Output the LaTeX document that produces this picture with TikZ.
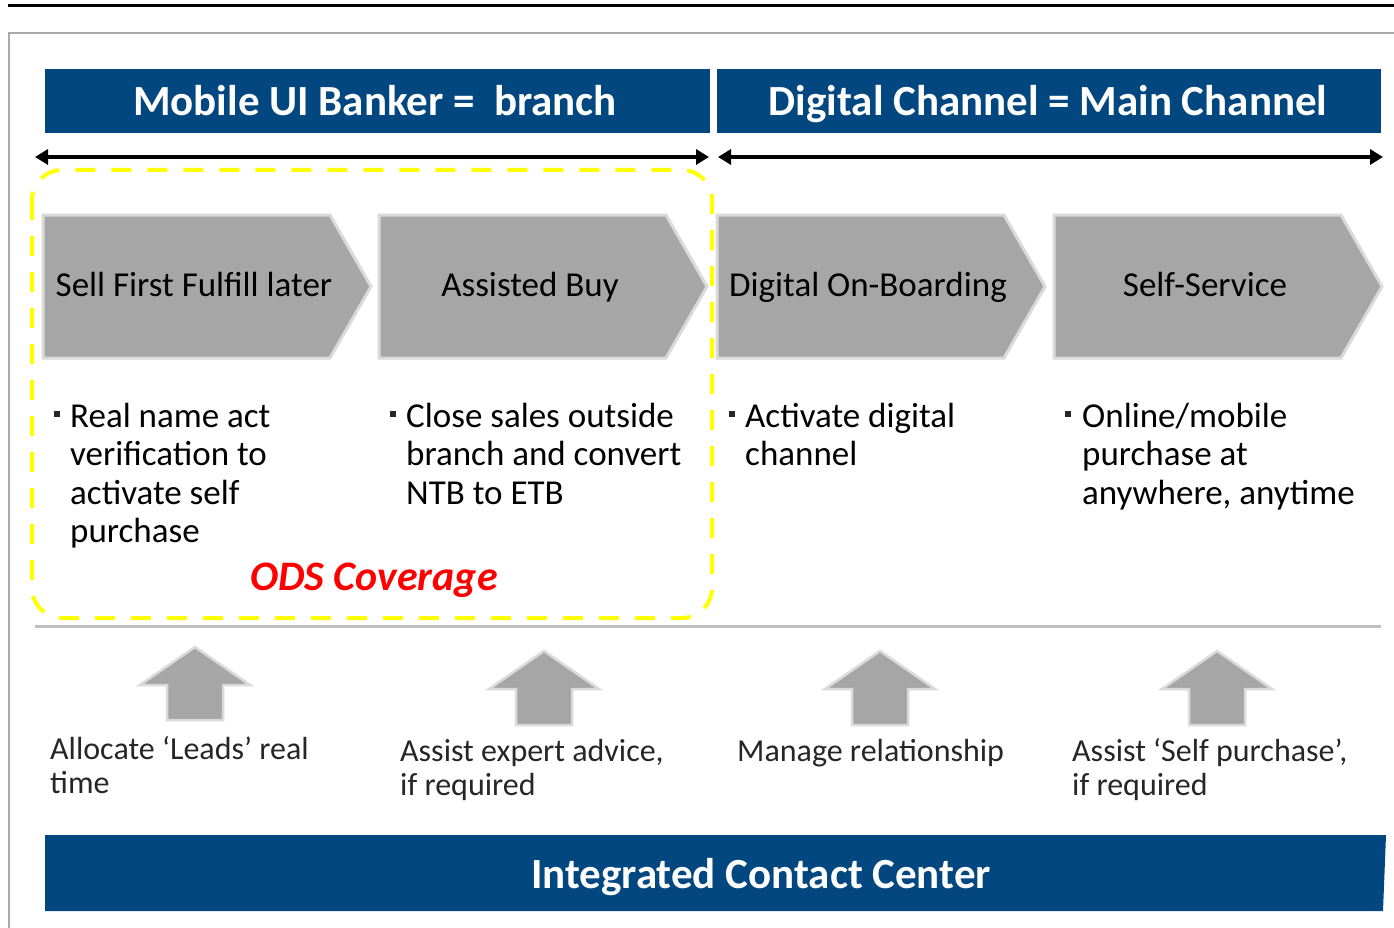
\documentclass[tikz,border=0pt]{standalone}
\usepackage{fontspec}
\setmainfont{Carlito}
\usetikzlibrary{arrows.meta}
\definecolor{bankblue}{HTML}{02477F}
\definecolor{chevgray}{HTML}{A6A6A6}
\definecolor{chevedge}{HTML}{DADADA}
\definecolor{framegray}{HTML}{AAAAAA}
\definecolor{rulegray}{HTML}{BFBFBF}
\definecolor{odsyellow}{HTML}{FFFF00}
\definecolor{odsred}{HTML}{FF0000}

\tikzset{
  hdrbar/.style={fill=bankblue, draw=none},
  hdrtext/.style={text=white, inner sep=0pt, anchor=base, font=\fontsize{43}{48}\selectfont\bfseries},
  spanarrow/.style={line width=4pt, {Triangle[length=13pt,width=15pt]}-{Triangle[length=13pt,width=15pt]}},
  chevshape/.style={fill=chevgray, draw=chevedge, line width=3pt, line join=miter},
  chevtext/.style={inner sep=0pt, anchor=base, font=\fontsize{35}{38}\selectfont},
  bodytext/.style={inner sep=0pt, align=left, font=\fontsize{35}{38.5}\selectfont},
  bulletsq/.style={fill=black!85, inner sep=0pt, minimum size=6.5pt},
  noteText/.style={inner sep=0pt, align=left, text=black!85, font=\fontsize{32}{34}\selectfont},
  uparrowshape/.style={fill=chevgray, draw=chevedge, line width=2.5pt},
}

\begin{document}
\begin{tikzpicture}[x=1pt, y=-1pt]
\useasboundingbox (0,0) rectangle (1394,928);

% top rule and outer frame
\draw[line width=3pt] (8,6) -- (1394,6);
\draw[framegray, line width=2.5pt] (1400,33) -- (9,33) -- (9,935);

% channel headers
\fill[hdrbar] (45,69) rectangle (710,133);
\fill[hdrbar] (717,69) rectangle (1381,133);
\node[hdrtext] (h1) at (375,116) {Mobile UI Banker = \ branch};
\node[hdrtext] (h2) at (1048,116) {Digital Channel = Main Channel};

% span arrows
\coordinate (s1l) at (35,157);
\coordinate (s1r) at (709,157);
\coordinate (s2l) at (718,157);
\coordinate (s2r) at (1383,157);
\draw[spanarrow] (s1l) -- (s1r);
\draw[spanarrow] (s2l) -- (s2r);

% ODS coverage region
\draw[odsyellow, line width=4pt, dash pattern=on 20pt off 16pt, rounded corners=30pt]
  (32,170) rectangle (712,618);

% process chevrons
\foreach \x/\n/\t in {43/c1/Sell First Fulfill later, 379/c2/Assisted Buy,
                      717/c3/Digital On-Boarding, 1054/c4/Self-Service} {
  \draw[chevshape] (\x,215) -- (\x+287,215) -- (\x+328,286.5) -- (\x+287,358) -- (\x,358) -- cycle;
  \node[chevtext] (\n) at (\x+151,296) {\t};
}

% bullet descriptions (base anchor sits on the last line)
\node[bulletsq] (b1) at (57,414) {};
\node[bodytext, anchor=base west] (d1) at (70,542.5) {Real name act\\verification to\\activate self\\purchase};
\node[bulletsq] (b2) at (393,414) {};
\node[bodytext, anchor=base west] (d2) at (406,504) {Close sales outside\\branch and convert\\NTB to ETB};
\node[bulletsq] (b3) at (732,414) {};
\node[bodytext, anchor=base west] (d3) at (745,465.5) {Activate digital\\channel};
\node[bulletsq] (b4) at (1068,414) {};
\node[bodytext, anchor=base west] (d4) at (1082,504) {Online/mobile\\purchase at\\anywhere, anytime};

\node[inner sep=0pt, anchor=base, text=odsred, font=\fontsize{42}{46}\selectfont\bfseries\itshape] (ods) at (374,590) {ODS Coverage};

% separator
\draw[rulegray, line width=3pt] (35,626) -- (1381,626);

% support arrows from the contact center
\foreach \cx/\ty/\by in {195/647/720, 544/651/725, 880/651/725, 1217/651/725} {
  \draw[uparrowshape] (\cx,\ty) -- (\cx+55,\ty+38) -- (\cx+28,\ty+38) -- (\cx+28,\by)
     -- (\cx-28,\by) -- (\cx-28,\ty+38) -- (\cx-55,\ty+38) -- cycle;
}

\node[noteText, anchor=base west] (n1) at (50,793) {Allocate ‘Leads’ real\\time};
\node[noteText, anchor=base west] (n2) at (400,795) {Assist expert advice,\\if required};
\node[noteText, anchor=base west] (n3) at (737,761) {Manage relationship};
\node[noteText, anchor=base west] (n4) at (1072,795) {Assist ‘Self purchase’,\\if required};

% contact center bar
\fill[hdrbar] (45,835) -- (1386,835) -- (1383,911) -- (45,911) -- cycle;
\node[hdrtext] (icc) at (761,888) {Integrated Contact Center};
\end{tikzpicture}
\end{document}
